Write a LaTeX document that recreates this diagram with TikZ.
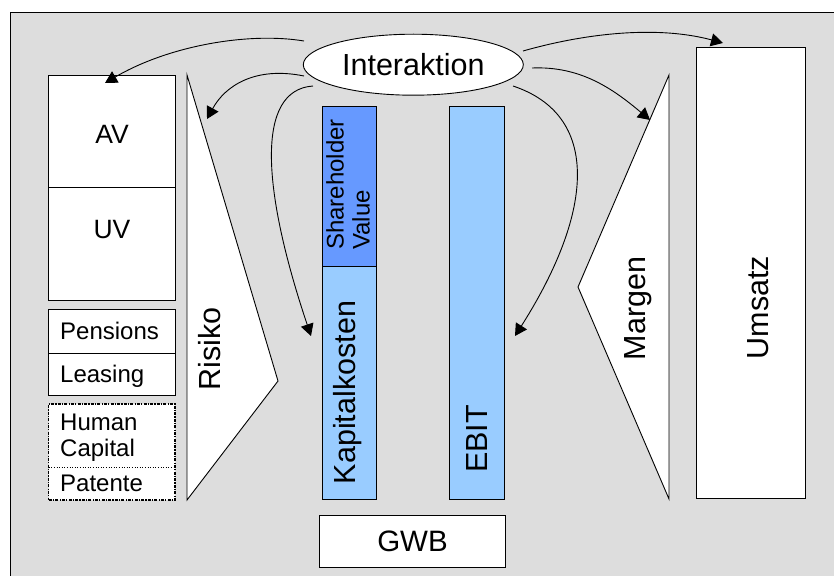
\documentclass[tikz,border=0pt]{standalone}
\usepackage{fontspec}
\setmainfont{Liberation Sans}
\usetikzlibrary{arrows.meta,shapes.geometric}
\definecolor{bg}{HTML}{DDDDDD}
\definecolor{sv}{HTML}{6699FF}
\definecolor{kb}{HTML}{99CCFF}
\begin{document}
\begin{tikzpicture}[x=1pt,y=-1pt,
  box/.style={draw=black, line width=0.9pt, fill=white, rectangle, inner sep=0pt, outer sep=0pt},
  arr/.style={line width=0.9pt, -{Triangle[length=12pt,width=13pt]}},
  big/.style={font=\fontsize{30.5}{34}\selectfont},
  mid/.style={font=\fontsize{26.5}{30}\selectfont},
  small/.style={font=\fontsize{24}{27}\selectfont},
  vtext/.style={rotate=90, anchor=base, inner sep=0pt},
  lbl/.style={anchor=base west, inner sep=0pt, small},
]
\useasboundingbox (0,0) rectangle (834,575);
\begin{scope}
  \clip (0,0) rectangle (834,575);
  \draw[fill=bg, line width=0.9pt] (10,12) rectangle (850,590);
\end{scope}

% left column
\node[box, minimum width=126.3pt, minimum height=112pt] (av) at (111.85,131) {};
\node[box, minimum width=126.3pt, minimum height=113pt] (uv) at (111.85,243.5) {};
\node[box, minimum width=126.3pt, minimum height=44.7pt] (pens) at (111.85,331.35) {};
\node[box, minimum width=126.3pt, minimum height=42pt] (leas) at (111.85,374.7) {};
\node[box, minimum width=126.3pt, minimum height=96pt, line width=1.1pt, dash pattern=on 3pt off 1.2pt on 1.2pt off 1.2pt] (hc) at (111.85,452) {};
\draw[line width=0.6pt, dotted] (hc.west |- 0,467) -- (hc.east |- 0,467);

\node[mid, anchor=base, inner sep=0pt] (tav) at (112,143.5) {AV};
\node[mid, anchor=base, inner sep=0pt] (tuv) at (112,238.5) {UV};
\node[lbl] (tpens) at (60,339.5) {Pensions};
\node[lbl] (tleas) at (60,382.5) {Leasing};
\node[lbl] (thum) at (60,430) {Human};
\node[lbl] (tcap) at (60,456.5) {Capital};
\node[lbl] (tpat) at (60,491.5) {Patente};

% Risiko triangle
\coordinate (r1) at (187,75);
\coordinate (r2) at (278,381);
\coordinate (r3) at (187,500);
\draw[fill=white, line width=0.9pt, line join=miter] (r1) -- (r2) -- (r3) -- cycle;
\node[big, vtext] (trisiko) at (220,349) {Risiko};

% middle bars
\node[box, fill=sv, minimum width=54.7pt, minimum height=160pt] (sh) at (349.35,186) {};
\node[box, fill=kb, minimum width=54.7pt, minimum height=233pt] (kk) at (349.35,382.5) {};
\node[box, fill=kb, minimum width=54.6pt, minimum height=393pt] (ebit) at (477,302.5) {};
\node[rotate=90, align=left, inner sep=0pt, font=\fontsize{24}{26}\selectfont] (tsh) at (348,184.5) {Shareholder\\Value};
\node[big, vtext] (tkk) at (355,392.5) {Kapitalkosten};
\node[big, vtext] (tebit) at (487,439) {EBIT};

% GWB
\node[box, minimum width=186.4pt, minimum height=51.7pt] (gwb) at (412.5,541.15) {};
\node[anchor=base, inner sep=0pt, font=\fontsize{29.5}{33}\selectfont] (tgwb) at (412.5,551.5) {GWB};

% Margen triangle
\coordinate (m1) at (669,75);
\coordinate (m2) at (578,287);
\coordinate (m3) at (669,499);
\draw[fill=white, line width=0.9pt, line join=miter] (m1) -- (m2) -- (m3) -- cycle;
\node[big, vtext] (tmarg) at (645,308.5) {Margen};

% Umsatz
\node[box, minimum width=109pt, minimum height=450.3pt] (ums) at (750.5,272.85) {};
\node[big, vtext] (tums) at (768.5,307.5) {Umsatz};

% Interaktion
\node[draw, ellipse, fill=white, line width=0.9pt, minimum width=220pt, minimum height=61pt, inner sep=0pt, big] (inter) at (413.3,64.7) {Interaktion};

% arrows
\coordinate (s1) at (304,41);   \coordinate (e1) at (105,83);
\coordinate (s2) at (304,76);   \coordinate (e2) at (207,119);
\coordinate (s3) at (313,86);   \coordinate (e3) at (311,336);
\coordinate (s4) at (513,86);   \coordinate (e4) at (515,336);
\coordinate (s5) at (532,68);   \coordinate (e5) at (650,120);
\coordinate (s6) at (523,51);   \coordinate (e6) at (723,43);
\draw[arr] (s1) .. controls (250,32) and (170,45) .. (e1);
\draw[arr] (s2) .. controls (255,66) and (225,86) .. (e2);
\draw[arr] (s3) .. controls (255,90) and (262,190) .. (e3);
\draw[arr] (s4) .. controls (600,115) and (595,210) .. (e4);
\draw[arr] (s5) .. controls (580,66) and (612,88) .. (e5);
\draw[arr] (s6) .. controls (590,32) and (660,26) .. (e6);
\end{tikzpicture}
\end{document}
